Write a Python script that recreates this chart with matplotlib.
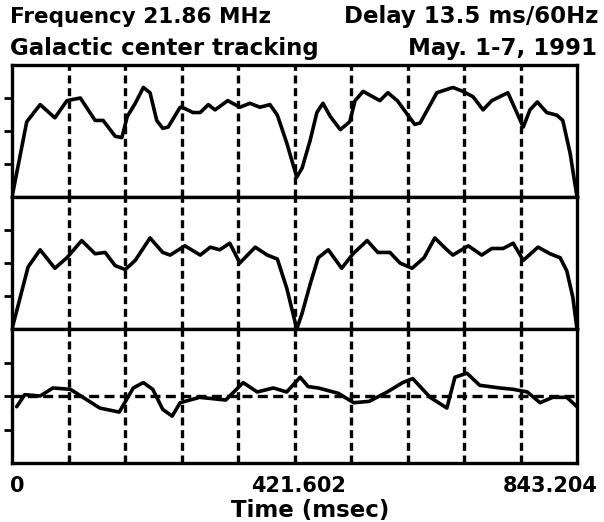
import matplotlib.pyplot as plt
from matplotlib.transforms import ScaledTranslation

# time axis (msec) and the three traces
t_end = 843.204

t1 = [0, 22, 42, 64, 82, 102, 124, 136, 154, 164, 172, 184, 196, 206, 216, 225,
      233, 251, 258, 270, 281, 293, 303, 322, 340, 355, 370, 385, 396, 410, 425,
      433, 445, 455, 464, 475, 490, 504, 512, 524, 549, 561, 575, 601, 609, 634,
      658, 673, 688, 703, 716, 740, 748, 763, 773, 784, 798, 813, 822, 833, 843.2]
y1 = [0, 57, 70, 60, 73, 75, 58, 58, 46, 45, 61, 71, 83, 79, 58, 52,
      53, 68, 67, 64, 64, 70, 66, 73, 68, 71, 68, 70, 62, 41, 15,
      22, 43, 64, 71, 61, 51, 57, 73, 80, 73, 79, 73, 55, 56, 79,
      83, 80, 76, 66, 73, 79, 70, 53, 66, 72, 64, 62, 58, 33, 0]

t2 = [0, 24, 42, 64, 82, 104, 124, 139, 154, 169, 184, 206, 225, 236, 258, 281,
      296, 310, 325, 340, 363, 381, 396, 410, 425, 433, 445, 457, 472, 492, 509,
      530, 546, 564, 579, 597, 615, 631, 649, 658, 681, 701, 716, 733, 748, 763,
      785, 803, 818, 828, 837, 843.2]
y2 = [0, 47, 60, 46, 54, 67, 57, 58, 48, 45, 52, 69, 58, 56, 63, 56,
      62, 60, 65, 50, 62, 56, 53, 31, 0, 12, 34, 54, 60, 46, 57,
      67, 58, 58, 50, 46, 54, 69, 60, 56, 63, 56, 61, 61, 65, 52,
      62, 57, 54, 44, 24, 0]

t3 = [7, 19, 42, 61, 87, 106, 131, 160, 181, 196, 210, 225, 239, 251, 280, 319,
      345, 366, 390, 410, 430, 442, 457, 487, 510, 533, 560, 583, 598, 624, 649,
      661, 679, 698, 728, 748, 769, 788, 807, 828, 843.2]
y3 = [42, 51, 50, 56, 55, 49, 41, 38, 56, 60, 55, 40, 35, 45, 49, 47,
      60, 53, 56, 53, 64, 57, 56, 52, 45, 46, 53, 60, 63, 49, 41,
      64, 67, 58, 56, 55, 53, 45, 49, 49, 42]

x_ticks = [0, 421.602, 843.204]
x_labels = ["0", "421.602", "843.204"]

fig = plt.figure(figsize=(6.04, 5.22), dpi=100)
fw, fh = 604, 522
left, right = 12 / fw, 577 / fw
edges = [65, 197, 329, 463]
dash = (0, (2.4, 1.4))

axes = []
for i in range(3):
    top = 1 - edges[i] / fh
    bot = 1 - edges[i + 1] / fh
    ax = fig.add_axes([left, bot, right - left, top - bot])
    axes.append(ax)

for ax, t, y in zip(axes, [t1, t2, t3], [y1, y2, y3]):
    ax.plot(t, y, color="black", lw=2.6, solid_joinstyle="round", solid_capstyle="round")
    ax.set_xlim(0, t_end)
    ax.set_ylim(0, 100)
    for k in range(1, 10):
        ax.axvline(t_end * k / 10, color="black", lw=2.4, linestyle=dash)
    for s in ax.spines.values():
        s.set_linewidth(2.4)
    ax.set_yticks([25, 50, 75])
    ax.set_yticklabels([])
    ax.tick_params(axis="y", direction="out", length=6, width=2)
    ax.set_xticks([])

axes[2].axhline(50, color="black", lw=2.4, linestyle=(0, (3.0, 1.6)))

ax = axes[2]
ax.set_xticks(x_ticks)
ax.set_xticklabels(x_labels, fontsize=15, fontweight="bold")
ax.tick_params(axis="x", length=0, pad=9)
labs = ax.get_xticklabels()
labs[0].set_ha("left")
labs[2].set_ha("right")
labs[0].set_transform(labs[0].get_transform() + ScaledTranslation(-2 / 100, 0, fig.dpi_scale_trans))
labs[1].set_transform(labs[1].get_transform() + ScaledTranslation(4 / 100, 0, fig.dpi_scale_trans))
labs[2].set_transform(labs[2].get_transform() + ScaledTranslation(21 / 100, 0, fig.dpi_scale_trans))

fig.text(310 / fw, 1 - 510 / fh, "Time (msec)", ha="center", va="center",
         fontsize=16.5, fontweight="bold")

fig.text(10 / fw, 1 - 17 / fh, "Frequency 21.86 MHz", ha="left", va="center", fontsize=15.5, fontweight="bold")
fig.text(598 / fw, 1 - 17 / fh, "Delay 13.5 ms/60Hz", ha="right", va="center", fontsize=16.5, fontweight="bold")
fig.text(10 / fw, 1 - 48 / fh, "Galactic center tracking", ha="left", va="center", fontsize=16.5, fontweight="bold")
fig.text(597 / fw, 1 - 48 / fh, "May. 1-7, 1991", ha="right", va="center", fontsize=16.5, fontweight="bold")

fig.savefig("out.png", dpi=100)
